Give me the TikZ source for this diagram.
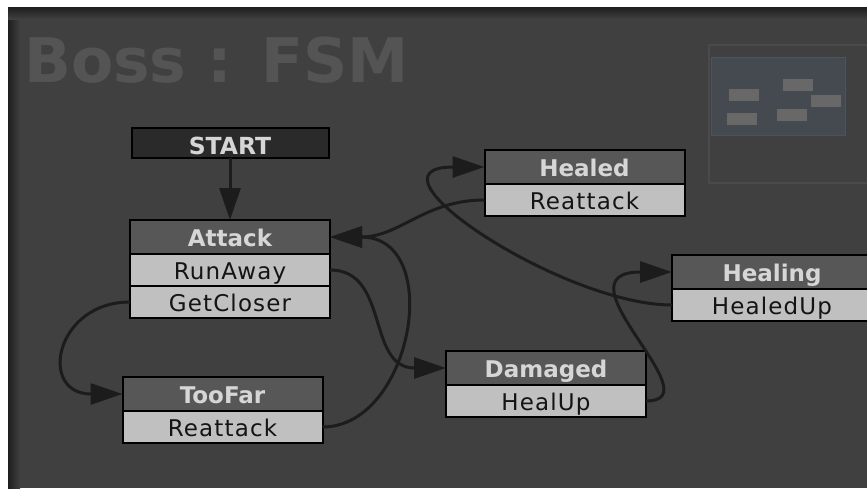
\documentclass[tikz,border=0pt]{standalone}
\usepackage{fontspec}
\setmainfont{DejaVu Sans}
\newfontfamily\rowfont[LetterSpace=5]{DejaVu Sans}
\usetikzlibrary{positioning,arrows.meta}
\definecolor{panelbg}{RGB}{64,64,64}
\definecolor{panelshade}{RGB}{30,30,30}
\definecolor{titlegray}{RGB}{84,84,84}
\definecolor{headgray}{RGB}{87,87,87}
\definecolor{headtext}{RGB}{214,214,214}
\definecolor{rowgray}{RGB}{192,192,192}
\definecolor{rowtext}{RGB}{20,20,20}
\definecolor{startgray}{RGB}{42,42,42}
\definecolor{wiregray}{RGB}{28,28,28}
\definecolor{mapframe}{RGB}{74,74,74}
\definecolor{mapfill}{RGB}{69,73,80}
\definecolor{mapedge}{RGB}{76,82,96}
\definecolor{mapbox}{RGB}{104,104,104}
\tikzset{
>={Triangle[length=32pt,width=21pt]},
  startbox/.style={
    rectangle,
    draw=black, line width=2pt,
    fill=startgray, text=headtext,
    font=\fontsize{23.5}{26}\selectfont\bfseries,
    minimum width=197pt,
    minimum height=30pt,
    text height=22pt, text depth=0pt,
    inner sep=0pt, outer sep=0pt},
  statehead/.style={
    rectangle,
    draw=black, line width=2pt,
    fill=headgray, text=headtext,
    font=\fontsize{23}{26}\selectfont\bfseries,
    minimum width=200pt,
    minimum height=34pt,
    text height=21pt, text depth=3pt,
    inner sep=0pt, outer sep=0pt},
  stateitem/.style={
    rectangle,
    draw=black, line width=2pt,
    fill=rowgray, text=rowtext,
    font=\rowfont\fontsize{23}{26}\selectfont,
    minimum width=200pt,
    minimum height=32pt,
    text height=20pt, text depth=2pt,
    inner sep=0pt, outer sep=0pt},
  line/.style={draw=wiregray, line width=3pt, ->},
}
\begin{document}
\begin{tikzpicture}[x=1pt,y=-1pt]
\useasboundingbox (0,0) rectangle (867,488);
\clip (0,0) rectangle (867,488);

% panel
\fill[white] (0,0) rectangle (867,488);
\fill[panelbg] (8,7) rectangle (867,488);
\shade[left color=panelshade, right color=panelbg] (8,7) rectangle (20,488);
\shade[top color=panelshade, bottom color=panelbg] (8,7) rectangle (867,19);

\node[anchor=base west, inner sep=0pt, text=titlegray,
  font=\fontsize{61.5}{66}\selectfont\bfseries] (title) at (24,82) {Boss : FSM};

% overview map
\draw[mapframe, line width=1.5pt] (709,45) rectangle (880,183);
\draw[mapedge, fill=mapfill, line width=1pt] (711,57) rectangle (845,135);
\foreach \x/\y in {729/89, 783/79, 811/95, 727/113, 777/109}
  \fill[mapbox] (\x,\y) rectangle +(30,12);

\node[startbox] (start) at (230,143) {START};

\node[statehead] (attack) at (230,237) {Attack};
\node[stateitem, below=0pt of attack] (runaway) {RunAway};
\node[stateitem, below=0pt of runaway] (getcloser) {GetCloser};

\node[statehead] (toofar) at (222.5,394) {TooFar};
\node[stateitem, below=0pt of toofar] (toofarreattack) {Reattack};

\node[statehead] (healed) at (584.5,167) {Healed};
\node[stateitem, below=0pt of healed] (healedreattack) {Reattack};

\node[statehead] (damaged) at (546,368) {Damaged};
\node[stateitem, below=0pt of damaged] (healup) {HealUp};

\node[statehead] (healing) at (772,272) {Healing};
\node[stateitem, below=0pt of healing] (healedup) {HealedUp};

\draw[line] (start) -- (attack);
\draw[line] (getcloser.west) .. controls +(-75,0) and +(-85,0) .. (toofar.west);
\draw[line] (runaway.east) .. controls +(60,0) and +(-80,0) .. (damaged.west);
\draw[line] (toofarreattack.east) .. controls +(90,0) and +(115,0) .. (attack.east);
\draw[line] (healedreattack.west) .. controls +(-60,0) and +(70,0) .. (attack.east);
\draw[line] (healedup.west) .. controls +(-110,0) and +(-130,0) .. (healed.west);
\draw[line] (healup.east) .. controls +(70,0) and +(-120,0) .. (healing.west);

\end{tikzpicture}
\end{document}
